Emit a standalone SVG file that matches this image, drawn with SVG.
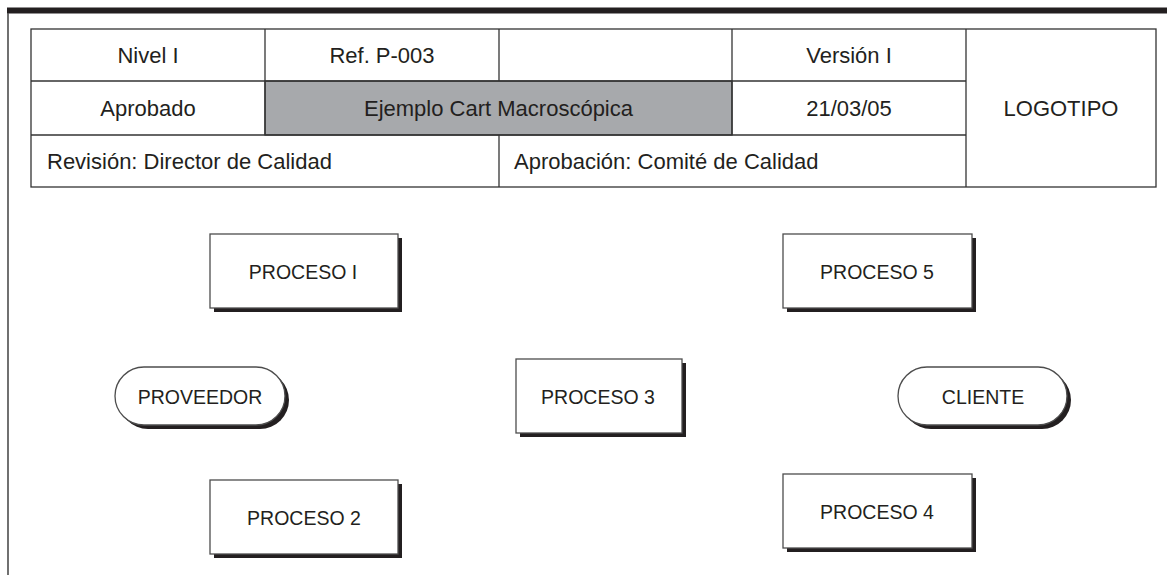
<svg xmlns="http://www.w3.org/2000/svg" width="1167" height="575" viewBox="0 0 1167 575">
<style>
.cell{fill:#ffffff;stroke:#333333;stroke-width:1.3}
.gray{fill:#a7a9ac;stroke:#333333;stroke-width:1.3}
.tt{font-family:"Liberation Sans",Arial,sans-serif;font-size:22px;fill:#231f20}
.nt{font-family:"Liberation Sans",Arial,sans-serif;font-size:19.5px;fill:#231f20;text-anchor:middle}
.box{fill:#ffffff;stroke:#4d4d4d;stroke-width:1.3}
.shadow{fill:#231f20}
.c{text-anchor:middle}
</style>
<rect x="0" y="0" width="1167" height="575" fill="#ffffff"/>
<g id="frame">
<rect x="7" y="7.5" width="1160" height="6" fill="#231f20"/>
<line x1="8" y1="13" x2="8" y2="575" stroke="#4d4d4d" stroke-width="1.6"/>
</g>
<g id="header">
<rect class="cell" x="31" y="29" width="1125" height="158"/>
<rect class="gray" x="265" y="81" width="467" height="54"/>
<line x1="31" y1="81" x2="966" y2="81" stroke="#333" stroke-width="1.3"/>
<line x1="31" y1="135" x2="966" y2="135" stroke="#333" stroke-width="1.3"/>
<line x1="265" y1="29" x2="265" y2="135" stroke="#333" stroke-width="1.3"/>
<line x1="499" y1="29" x2="499" y2="81" stroke="#333" stroke-width="1.3"/>
<line x1="499" y1="135" x2="499" y2="187" stroke="#333" stroke-width="1.3"/>
<line x1="732" y1="29" x2="732" y2="135" stroke="#333" stroke-width="1.3"/>
<line x1="966" y1="29" x2="966" y2="187" stroke="#333" stroke-width="1.3"/>
<text class="tt c" x="148" y="63">Nivel I</text>
<text class="tt c" x="382" y="63">Ref. P-003</text>
<text class="tt c" x="849" y="63">Versión I</text>
<text class="tt c" x="148" y="116">Aprobado</text>
<text class="tt c" x="498.5" y="116">Ejemplo Cart Macroscópica</text>
<text class="tt c" x="849" y="116">21/03/05</text>
<text class="tt" x="47" y="169">Revisión: Director de Calidad</text>
<text class="tt" x="514" y="169">Aprobación: Comité de Calidad</text>
<text class="tt c" x="1061" y="116">LOGOTIPO</text>
</g>
<g id="connectors"></g>
<g id="proceso1">
<rect class="shadow" x="214" y="238" width="188" height="74"/>
<rect class="box" x="210" y="234" width="188" height="74"/>
<text class="nt" x="303" y="278.5">PROCESO I</text>
</g>
<g id="proceso5">
<rect class="shadow" x="787" y="238" width="189" height="74"/>
<rect class="box" x="783" y="234" width="189" height="74"/>
<text class="nt" x="877" y="278.5">PROCESO 5</text>
</g>
<g id="proceso3">
<rect class="shadow" x="520" y="363" width="166" height="74"/>
<rect class="box" x="516" y="359" width="166" height="74"/>
<text class="nt" x="598" y="403.5">PROCESO 3</text>
</g>
<g id="proceso2">
<rect class="shadow" x="214" y="484" width="188" height="74"/>
<rect class="box" x="210" y="480" width="188" height="74"/>
<text class="nt" x="304" y="524.5">PROCESO 2</text>
</g>
<g id="proceso4">
<rect class="shadow" x="787" y="478" width="189" height="74"/>
<rect class="box" x="783" y="474" width="189" height="74"/>
<text class="nt" x="877" y="518.5">PROCESO 4</text>
</g>
<g id="proveedor">
<rect class="shadow" x="119" y="371" width="170" height="58" rx="29" ry="29"/>
<rect class="box" x="115" y="367" width="170" height="58" rx="29" ry="29"/>
<text class="nt" x="200" y="404">PROVEEDOR</text>
</g>
<g id="cliente">
<rect class="shadow" x="902" y="371" width="169" height="58" rx="29" ry="29"/>
<rect class="box" x="898" y="367" width="169" height="58" rx="29" ry="29"/>
<text class="nt" x="983" y="404">CLIENTE</text>
</g>
</svg>
